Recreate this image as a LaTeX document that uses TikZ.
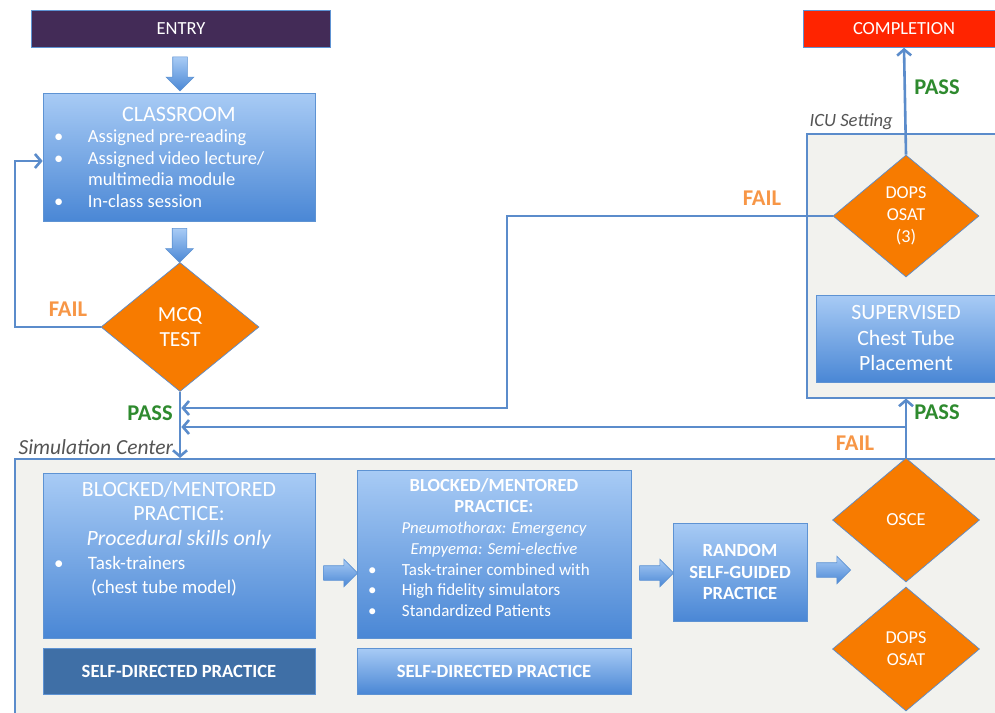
\documentclass[tikz,border=0pt]{standalone}
\usepackage{fontspec}
\setmainfont{Carlito}
\usetikzlibrary{shapes.geometric,shapes.arrows,arrows.meta,calc}

\definecolor{entrypurple}{HTML}{432B57}
\definecolor{donered}{HTML}{FF2400}
\definecolor{boxtop}{HTML}{A8CBF5}
\definecolor{boxbot}{HTML}{4A87D5}
\definecolor{boxline}{HTML}{5E93D3}
\definecolor{darkbox}{HTML}{3F6FA6}
\definecolor{linkblue}{HTML}{5B8CCB}
\definecolor{diaorange}{HTML}{F77B00}
\definecolor{zonegray}{HTML}{F2F2EE}
\definecolor{failorange}{HTML}{F79646}
\definecolor{passgreen}{HTML}{2E8A2E}
\definecolor{labelgray}{HTML}{555555}

\newcommand{\setfs}[2]{\fontsize{#1}{#2}\selectfont}
\newcommand{\bitem}[1]{\hspace*{11pt}\makebox[34pt][l]{\textbullet}#1\par}

\begin{document}
\begin{tikzpicture}[
    x=1pt, y=-1pt,
    topbar/.style={rectangle, draw=boxline, line width=0.6pt, minimum height=37pt, text=white, font=\setfs{18.5}{22}},
    bluebox/.style={rectangle, draw=boxline, line width=0.7pt, top color=boxtop, bottom color=boxbot, text=white, inner sep=0pt, align=center},
    decision/.style={diamond, draw=linkblue, line width=0.7pt, fill=diaorange, text=white, inner sep=0pt, align=center, minimum width=147pt, minimum height=124pt, font=\setfs{18.2}{22}},
    bigarrow/.style={single arrow, draw=boxline, line width=0.6pt, top color=boxtop, bottom color=boxbot, minimum height=34pt, minimum width=27pt, inner sep=7pt, single arrow head extend=6.5pt},
    zone/.style={rectangle, draw=linkblue, line width=1.5pt, fill=zonegray, anchor=north west, inner sep=0pt},
    zonelbl/.style={anchor=west, text=labelgray, font=\setfs{21.5}{24}\itshape},
    conn/.style={draw=linkblue, line width=2.6pt},
    linktip/.style={-{Straight Barb[length=6pt,width=14pt]}},
    passlbl/.style={text=passgreen, font=\setfs{22.5}{25}\bfseries},
    faillbl/.style={text=failorange, font=\setfs{22.5}{25}\bfseries}
]
\useasboundingbox (0,0) rectangle (995,712);
\fill[white] (0,0) rectangle (995,712);
\clip (0,0) rectangle (995,712);

% Settings
\node[zone, minimum width=1000pt, minimum height=300pt] (sim) at (14,458) {};
\node[zone, minimum width=220pt, minimum height=264pt] (icu) at (806,133) {};
\node[zonelbl] (simlbl) at (15,447) {Simulation Center};
\node[zonelbl, font=\setfs{18.7}{21}\itshape] (iculbl) at (806,122) {ICU Setting};

% Entry and completion
\node[topbar, fill=entrypurple, minimum width=299pt] (entry) at (181,29) {ENTRY};
\node[topbar, fill=donered, minimum width=202pt] (completion) at (904,29) {COMPLETION};

% Classroom
\node[bluebox] (classroom) at (179,157) {\parbox[c][128pt][c]{272pt}{
    {\centering\setfs{22}{25}CLASSROOM\par}
    \setfs{18.5}{21.5}
    \bitem{Assigned pre-reading}
    \bitem{Assigned video lecture/}
    \hspace*{45pt}multimedia module\par
    \bitem{In-class session}
}};
\node[bigarrow, shape border rotate=270] (arrowa) at ($(entry.south)!0.5!(classroom.north)$) {};

% MCQ test
\node[decision, minimum width=158pt, minimum height=129pt, font=\setfs{21.5}{24.5}] (mcq) at (180,327) {MCQ\\TEST};
\node[bigarrow, shape border rotate=270] (arrowb) at ($(classroom.south)!0.5!(mcq.north)$) {};

% Simulation center practice
\node[bluebox] (blocked) at (179,555.5) {\parbox[c][165pt][t]{272pt}{
    \vspace*{8pt}
    {\centering\setfs{21.8}{24.5}BLOCKED/MENTORED\\PRACTICE:\\\textit{Procedural skills only}\par}
    \setfs{19}{24}
    \bitem{Task-trainers}
    \hspace*{48pt}(chest tube model)\par
}};
\node[rectangle, draw=boxline, line width=0.7pt, fill=darkbox, text=white, minimum width=272pt, minimum height=46pt, font=\setfs{18.6}{21}\bfseries] (selfone) at (179,671) {SELF-DIRECTED PRACTICE};

\node[bluebox] (blockedtwo) at (494,554) {\parbox[c][168pt][t]{274pt}{
    \vspace*{9pt}
    {\centering\setfs{18.5}{21}\bfseries BLOCKED/MENTORED\\PRACTICE:\par}
    {\centering\setfs{16.8}{21}\itshape Pneumothorax: Emergency\\Empyema: Semi-elective\par}
    \setfs{17}{20.5}
    \bitem{Task-trainer combined with}
    \bitem{High fidelity simulators}
    \bitem{Standardized Patients}
}};
\node[bluebox, minimum width=274pt, minimum height=46pt, font=\setfs{18.6}{21}\bfseries] (selftwo) at (494,671) {SELF-DIRECTED PRACTICE};

\node[bluebox, minimum width=134pt, minimum height=98pt, font=\setfs{18.6}{21.5}\bfseries] (random) at (740,572) {RANDOM\\SELF-GUIDED\\PRACTICE};

\node[bigarrow] (arrowc) at (337,573) {};
\node[bigarrow] (arrowd) at (653,573) {};
\node[bigarrow] (arrowe) at (830,570) {};

% Assessments
\node[decision, font=\setfs{18.4}{21}] (osce) at (906,520) {OSCE};
\node[decision] (dopsb) at (906,649) {DOPS\\OSAT};

% ICU setting
\node[decision, minimum width=146pt, minimum height=122pt] (dopsc) at (906,216) {DOPS\\OSAT\\(3)};
\node[bluebox, minimum width=180pt, minimum height=87pt, font=\setfs{21.8}{25.5}] (supervised) at (906,338.5) {SUPERVISED\\Chest Tube\\Placement};

% Connectors
\coordinate (loopturn) at (15,161);
\draw[conn, linktip] (mcq.west) -| (loopturn) -- (loopturn -| classroom.west);
\draw[conn, linktip] (mcq.south) -- (mcq.south |- sim.north);

\coordinate (failturn) at (507,408);
\draw[conn, linktip] (dopsc.west) -| (failturn) -- ([xshift=1.3pt]failturn -| mcq.south);
\draw[conn, linktip] (dopsc.north) -- (completion.south);

\coordinate (oscesplit) at (osce.north |- 0,427);
\draw[conn, linktip] (osce.north) -- (osce.north |- icu.south);
\draw[conn, linktip] (oscesplit) -- ([xshift=1.3pt]oscesplit -| mcq.south);

% Labels
\node[faillbl] (failmcq) at (68,309) {FAIL};
\node[passlbl] (passmcq) at (150,413) {PASS};
\node[faillbl] (faildops) at (762,198) {FAIL};
\node[passlbl] (passdops) at (937,87) {PASS};
\node[faillbl] (failosce) at (855,443) {FAIL};
\node[passlbl] (passosce) at (937,412) {PASS};

\end{tikzpicture}
\end{document}
